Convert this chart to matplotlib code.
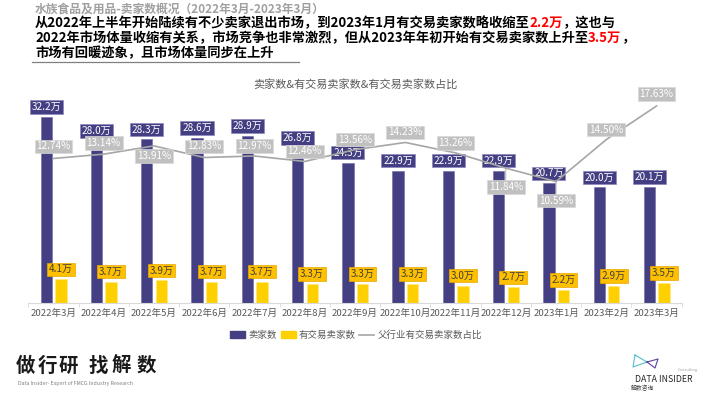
import matplotlib
matplotlib.use('Agg')
import matplotlib.pyplot as plt
from matplotlib.lines import Line2D
from matplotlib.patches import Patch

plt.rcParams['font.family'] = ['Noto Sans CJK SC', 'DejaVu Sans']

months = ['2022年3月', '2022年4月', '2022年5月', '2022年6月', '2022年7月', '2022年8月',
          '2022年9月', '2022年10月', '2022年11月', '2022年12月', '2023年1月',
          '2023年2月', '2023年3月']
sellers = [32.2, 28.0, 28.3, 28.6, 28.9, 26.8, 24.3, 22.9, 22.9, 22.9, 20.7, 20.0, 20.1]
active = [4.1, 3.7, 3.9, 3.7, 3.7, 3.3, 3.3, 3.3, 3.0, 2.7, 2.2, 2.9, 3.5]
share = [12.74, 13.14, 13.91, 12.83, 12.97, 12.46, 13.56, 14.23, 13.26, 11.84, 10.59, 14.50, 17.63]
# label offset (pixels) of the share labels from their points
share_off = [12, 11, -10, 11, 10, 10, 10, 10, 10, -19, -19, 10, 12]

PURPLE = '#433f82'
YELLOW = '#ffd000'
GOLD = '#ffc000'
LGRAY = '#a6a6a6'

W, H = 710, 399
fig = plt.figure(figsize=(W / 100, H / 100), dpi=100)


def fx(x):
    return x / W


def fy(y):
    return 1 - y / H


ax = fig.add_axes([fx(28.3), fy(303), 653.4 / W, 208 / H])
ax2 = ax.twinx()

x = list(range(len(months)))
bw = 0.225
xs1 = [i - 0.142 for i in x]
xs2 = [i + 0.148 for i in x]
ax.bar(xs1, sellers, width=bw, color=PURPLE, edgecolor='#6f6ba8', linewidth=0.4, zorder=2)
ax.bar(xs2, active, width=bw, color=YELLOW, edgecolor='#ffe680', linewidth=0.4, zorder=2)
ax.set_xlim(-0.5, len(months) - 0.5)
ax.set_ylim(0, 36)

for xi, v in zip(xs1, sellers):
    ax.annotate('{:.1f}万'.format(v), (xi, v), xytext=(0, 10), textcoords='offset pixels',
                ha='center', va='center', fontsize=7.2, color='white', zorder=5,
                bbox=dict(boxstyle='square,pad=0.18', fc=PURPLE, ec='#8c89c0', lw=0.5))
for xi, v in zip(xs2, active):
    ax.annotate('{:.1f}万'.format(v), (xi, v), xytext=(0, 10), textcoords='offset pixels',
                ha='center', va='center', fontsize=7.2, color='#404040', zorder=5,
                bbox=dict(boxstyle='square,pad=0.18', fc=GOLD, ec='#e8a800', lw=0.5))

ax2.plot(x, share, color=LGRAY, lw=1.2, zorder=3)
ax2.set_ylim(-0.72, 18.65)
for xi, v, off in zip(x, share, share_off):
    arrow = None
    if off < -15:
        arrow = dict(arrowstyle='-', color=LGRAY, lw=0.6, shrinkA=0, shrinkB=0)
    ax2.annotate('{:.2f}%'.format(v), (xi, v), xytext=(0, off), textcoords='offset pixels',
                 ha='center', va='center', fontsize=7.2, color='white', zorder=4,
                 arrowprops=arrow,
                 bbox=dict(boxstyle='square,pad=0.18', fc='#c0c0c0', ec='#d9d9d9', lw=0.5))
ax2.set_zorder(ax.get_zorder() + 1)
ax2.patch.set_visible(False)
ax.set_zorder(1)

for a in (ax, ax2):
    for s in ('top', 'right', 'left'):
        a.spines[s].set_visible(False)
    a.set_yticks([])
ax2.spines['bottom'].set_visible(False)
ax.spines['bottom'].set_color('#d9d9d9')
ax.set_xticks(x)
ax.set_xticklabels(months, fontsize=6.9, color='#595959')
ax.tick_params(axis='x', which='major', length=0, pad=4)
ax.set_xticks([i - 0.5 for i in range(len(months) + 1)], minor=True)
ax.tick_params(axis='x', which='minor', length=3, color='#d9d9d9')

fig.text(fx(355), fy(84), '卖家数&有交易卖家数&有交易卖家数占比', ha='center', va='center',
         fontsize=8, color='#595959')

handles = [Patch(color=PURPLE), Patch(color=YELLOW), Line2D([], [], color=LGRAY, lw=1.2)]
fig.legend(handles, ['卖家数', '有交易卖家数', '父行业有交易卖家数占比'], loc='center',
           bbox_to_anchor=(fx(356), fy(335)), ncol=3, frameon=False, fontsize=6.8,
           labelcolor='#595959', handlelength=1.6, handleheight=0.7, handletextpad=0.3,
           columnspacing=0.4)

# header
fig.text(fx(35), fy(9.5), '水族食品及用品-卖家数概况（2022年3月-2023年3月）', ha='left', va='center',
         fontsize=8.5, color='#a0a0a0', fontweight='bold')

lines = [
    [('从2022年上半年开始陆续有不少卖家退出市场，到2023年1月有交易卖家数略收缩至', 'black'),
     ('2.2万', '#ff0000'), ('，这也与', 'black')],
    [('2022年市场体量收缩有关系，市场竞争也非常激烈，但从2023年年初开始有交易卖家数上升至', 'black'),
     ('3.5万', '#ff0000'), ('，', 'black')],
    [('市场有回暖迹象，且市场体量同步在上升', 'black')],
]
renderer = fig.canvas.get_renderer()
for k, runs in enumerate(lines):
    xpos = 35
    for s, c in runs:
        t = fig.text(fx(xpos), fy(23 + 15.3 * k), s, ha='left', va='center', fontsize=9.55,
                     fontweight='bold', color=c)
        xpos += t.get_window_extent(renderer).width
fig.add_artist(Line2D([fx(32), fx(299)], [fy(61.5), fy(61.5)], color='#808080', lw=0.9))

# footer
slogan_x = [25.5, 47, 68.5, 98.5, 121.5, 146.5]
for ch, cx in zip('做行研找解数', slogan_x):
    fig.text(fx(cx), fy(366), ch, ha='center', va='center', fontsize=14,
             fontweight='bold', color='#1a1a1a')
fig.text(fx(18), fy(383), 'Data Insider- Expert of FMCG Industry Research', ha='left',
         va='center', fontsize=3.8, color='#808080')
fig.add_artist(Line2D([fx(635), fx(633), fx(647), fx(635)], [fy(355), fy(367), fy(362), fy(355)],
                      color='#4fc1c9', lw=0.8))
fig.add_artist(Line2D([fx(647), fx(658), fx(655), fx(647)], [fy(362), fy(359), fy(368), fy(362)],
                      color='#5b3fa0', lw=0.8))
fig.text(fx(664), fy(379), 'DATA INSIDER', ha='center', va='center', fontsize=6.3,
         color='#262626')
fig.text(fx(631), fy(388), '解数咨询', ha='left', va='center', fontsize=4.2, color='#404040')
fig.text(fx(688), fy(370.5), 'Consulting', ha='center', va='center', fontsize=2.8, color='#a0a0a0')

fig.savefig('out.png', dpi=100)
